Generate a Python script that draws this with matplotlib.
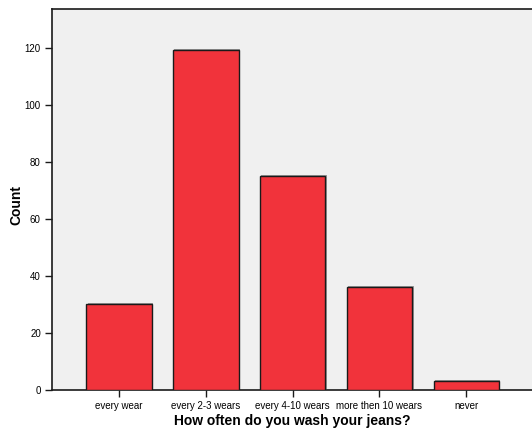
import matplotlib
matplotlib.use('Agg')
import matplotlib.pyplot as plt
import matplotlib.patheffects as pe
import numpy as np

categories = ['every wear', 'every 2-3 wears', 'every 4-10 wears', 'more then 10 wears', 'never']
counts = [30, 119, 75, 36, 3]
yticks = [0, 20, 40, 60, 80, 100, 120]

fig = plt.figure(figsize=(5.32, 4.32), dpi=100)
ax = fig.add_axes([0.0977, 0.0972, 0.9023, 0.8818])
ax.set_facecolor('#f0f0f0')

x = np.arange(len(categories))
bars = ax.bar(x, counts, width=0.755, color='#f1333b', edgecolor='#1a1a1a', linewidth=1.0, zorder=3)
for b in bars:
    b.set_path_effects([pe.SimplePatchShadow(offset=(1, 1), shadow_rgbFace='#9a9a9a', alpha=1.0), pe.Normal()])

ax.set_xlim(-0.772, 4.757)
ax.set_ylim(0, 133.5)
ax.set_xticks(x)
ax.set_xticklabels(categories, fontsize=7, family='Liberation Sans')
ax.set_yticks(yticks)
ax.set_yticklabels([str(v) for v in yticks], fontsize=7, family='Liberation Sans')
ax.tick_params(axis='both', length=5, width=1, color='#1a1a1a', pad=3)

for s in ['top', 'left', 'bottom']:
    ax.spines[s].set_color('#1a1a1a')
    ax.spines[s].set_linewidth(1.2)
ax.spines['right'].set_visible(False)

# axis titles placed in figure pixels so they stay inside the canvas
fig.text(292 / 532, 1 - 421 / 432, 'How often do you wash your jeans?', fontsize=10, fontweight='bold',
         family='Liberation Sans', ha='center', va='center')
fig.text(16 / 532, 1 - 205 / 432, 'Count', fontsize=10, fontweight='bold',
         family='Liberation Sans', ha='center', va='center', rotation=90)

fig.savefig('out.png', dpi=100)
